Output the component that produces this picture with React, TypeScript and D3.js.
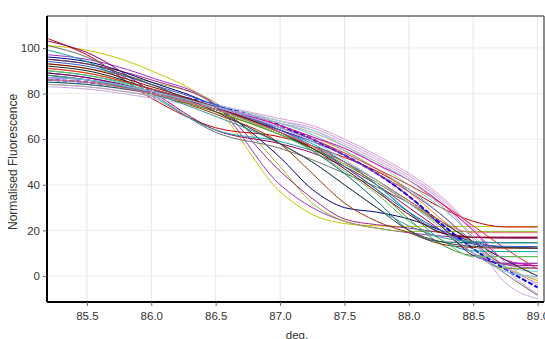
import { useEffect, useRef } from 'react'
import * as d3 from 'd3'

// temperature points each curve is sampled at
const temps = [85.2, 85.5, 86.0, 86.5, 87.0, 87.25, 87.5, 87.75, 88.0, 88.25, 88.5, 88.75, 89.0]

const curveValues: number[][] = [
  [101, 99, 90, 74, 37, 27, 23, 22, 21.7, 21.7, 21.7, 21.7, 21.7],
  [97, 95, 87, 75, 40, 30, 24, 21, 19, 17.5, 17, 17, 17],
  [93, 91, 85, 76, 48, 32, 24, 21, 19.5, 19.5, 19.5, 19.5, 19.5],
  [95, 93, 86, 75, 46, 34, 25, 22.5, 21, 19, 17, 16.5, 16.5],
  [96, 94, 85, 74, 52, 38, 30, 28, 25, 20, 15, 12.5, 12.2],
  [104, 97, 78, 65, 61, 57, 52, 46, 38, 30, 24, 21.5, 21.5],
  [101, 96, 80, 63, 56, 51, 45, 39, 32, 23, 12, 1, -8.5],
  [103, 98, 81, 64, 58, 54, 48, 40, 30, 20, 10, 5, 4.5],
  [99, 94, 79, 64, 59, 55, 50, 40, 28, 19, 15, 14.6, 14.6],
  [86, 85, 81, 75, 66, 60, 53, 45, 35, 23, 12, 3, -5],
  [88, 86, 80, 72, 62, 56, 48, 38, 25, 14, 9, 8.5, 8.5],
  [89, 87, 80, 71, 58, 45, 32, 24, 19, 14, 12.5, 12.2, 12.2],
  [91, 89, 82, 74, 66, 61, 55, 47, 37, 25, 14, 4, -2],
  [84, 83, 79, 74, 68, 65, 59, 52, 44, 34, 20, 3, -8],
  [83, 82, 78, 73, 67, 64, 58, 51, 43, 33, 16, -3, -10],
  [85, 84, 80, 75, 69, 66, 60, 53, 45, 35, 21, 6, -4],
  [86, 85, 81, 75, 68, 64, 57, 49, 40, 30, 18, 4, -1],
  [87, 86, 81, 74, 67, 62, 55, 47, 38, 27, 14, 4, 2],
  [90, 88, 82, 74, 64, 58, 50, 40, 28, 16, 11, 10.7, 10.7],
  [88, 86, 80, 72, 62, 56, 49, 41, 32, 22, 10, 3.4, 3.4],
  [89, 87, 81, 73, 64, 59, 53, 45, 35, 22, 9, 5.6, 5.6],
  [92, 90, 82, 73, 63, 57, 50, 42, 33, 24, 15, 7, 0],
  [91, 89, 82, 74, 65, 60, 54, 47, 40, 32, 22, 12, 3],
  [94, 92, 84, 75, 64, 57, 48, 38, 28, 20, 14, 13, 12.9],
  [85, 84, 80, 73, 63, 55, 45, 33, 20, 15, 14.6, 14.6, 14.6],
  [87, 86, 81, 74, 66, 61, 56, 49, 42, 32, 20, 7, 4.5],
  [90, 88, 81, 73, 62, 55, 46, 36, 24, 16, 8.5, 8.5, 8.5],
  [84, 83, 79, 74, 67, 63, 57, 50, 42, 31, 17, 4, -3],
  [88, 86, 80, 70, 58, 50, 40, 30, 22, 17, 15, 14.6, 14.6],
  [86, 85, 80, 73, 65, 60, 53, 45, 37, 27, 15, 5, 3.4],
  [93, 91, 83, 74, 63, 56, 47, 37, 27, 19, 17, 17, 17],
  [95, 93, 84, 72, 58, 50, 40, 30, 20, 15, 13, 12.5, 12.2],
  [86, 85, 80, 73, 63, 57, 50, 42, 33, 24, 19, 19, 19],
  [87, 86, 81, 74, 65, 59, 51, 42, 32, 21, 10, 2, -0.3],
]

const curveColors = [
  '#c8c800', '#9933cc', '#99bb33', '#aa2288', '#000080', '#cc0000', '#707070', '#990066',
  '#20a0a0', '#0000ff', '#339933', '#993300', '#ff8800', '#cc99dd', '#c8a8e0', '#e699cc',
  '#99cccc', '#66cccc', '#00aaaa', '#808000', '#660099', '#202020', '#dd3333', '#3355cc',
  '#006666', '#cc00cc', '#66bb66', '#aaaaaa', '#339999', '#8844aa', '#800000', '#404040',
  '#dd7777', '#88bbee',
]

const xTicks = [85.5, 86.0, 86.5, 87.0, 87.5, 88.0, 88.5, 89.0]
const yTicks = [0, 20, 40, 60, 80, 100]

const W = 545, H = 339

export default function App() {
  const ref = useRef<SVGSVGElement>(null)

  useEffect(() => {
    const svg = d3.select(ref.current!)
    svg.selectAll('*').remove()
    const m = { t: 16, r: 1, b: 37, l: 47 }
    const iW = W - m.l - m.r, iH = H - m.t - m.b

    const x = d3.scaleLinear().domain([85.19, 89.05]).range([0, iW])
    const y = d3.scaleLinear().domain([-11.4, 114]).range([iH, 0])
    const g = svg.append('g').attr('transform', `translate(${m.l},${m.t})`)

    // grid
    xTicks.forEach(t => {
      g.append('line').attr('x1', x(t)).attr('x2', x(t)).attr('y1', 0).attr('y2', iH)
        .attr('stroke', '#e6e6e6').attr('stroke-width', 1)
    })
    yTicks.forEach(t => {
      g.append('line').attr('x1', 0).attr('x2', iW).attr('y1', y(t)).attr('y2', y(t))
        .attr('stroke', '#ececec').attr('stroke-width', 1)
    })

    // curves
    const line = d3.line<number>()
      .x((_, i) => x(temps[i])).y(v => y(v))
      .curve(d3.curveMonotoneX)
    g.append('defs').append('clipPath').attr('id', 'plot-clip')
      .append('rect').attr('width', iW).attr('height', iH)
    const lines = g.append('g').attr('clip-path', 'url(#plot-clip)')
    curveValues.forEach((vals, i) => {
      const dashed = i === 9
      lines.append('path').datum(vals).attr('fill', 'none')
        .attr('stroke', curveColors[i % curveColors.length])
        .attr('stroke-width', dashed ? 2 : 1)
        .attr('stroke-dasharray', dashed ? '5,2' : null)
        .attr('d', line as any)
    })

    // frame
    g.append('line').attr('x1', 0).attr('x2', iW).attr('y1', 0).attr('y2', 0)
      .attr('stroke', '#666').attr('stroke-width', 1.5)
    g.append('line').attr('x1', iW).attr('x2', iW).attr('y1', 0).attr('y2', iH)
      .attr('stroke', '#666').attr('stroke-width', 1.5)

    // axes
    const font = 'Arial, "Liberation Sans", sans-serif'
    const ax = g.append('g').attr('transform', `translate(0,${iH})`)
      .call(d3.axisBottom(x).tickValues(xTicks).tickSize(4).tickPadding(6).tickFormat(d3.format('.1f')))
    ax.select('.domain').attr('stroke', '#000').attr('stroke-width', 2).attr('d', `M0,0H${iW}`)
    ax.selectAll('line').attr('stroke', '#666')
    ax.selectAll('text').attr('fill', '#333').attr('font-size', 11.5).attr('font-family', font)

    const ay = g.append('g')
      .call(d3.axisLeft(y).tickValues(yTicks).tickSize(4).tickPadding(3))
    ay.select('.domain').attr('stroke', '#000').attr('stroke-width', 2).attr('d', `M0,0V${iH}`)
    ay.selectAll('line').attr('stroke', '#666')
    ay.selectAll('text').attr('fill', '#333').attr('font-size', 11.5).attr('font-family', font)

    // titles
    svg.append('text').attr('x', 297).attr('y', H)
      .attr('text-anchor', 'middle').attr('font-size', 11.5).attr('font-family', font)
      .attr('fill', '#333').text('deg.')
    svg.append('text').attr('transform', `translate(17,${m.t + y(50)}) rotate(-90)`)
      .attr('text-anchor', 'middle').attr('font-size', 12).attr('font-family', font)
      .attr('fill', '#333').text('Normalised Fluorescence')
  }, [])

  return (
    <div style={{ position: 'absolute', left: 0, top: 0, background: '#fff' }}>
      <svg ref={ref} width={W} height={H} />
    </div>
  )
}
